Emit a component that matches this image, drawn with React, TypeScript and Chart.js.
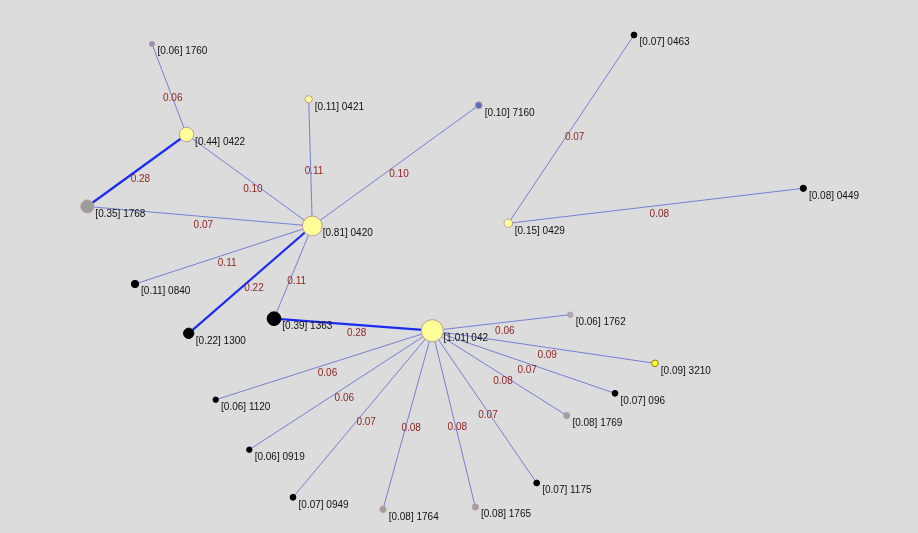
import { useEffect, useRef } from "react";
import { Chart, registerables } from "chart.js";

Chart.register(...registerables);

// ---- Data ----
const nodeIds = ["1760", "0422", "1768", "0420", "0421", "7160", "0840", "1300", "1363", "042", "0463", "0449", "0429", "1762", "3210", "096", "1769", "1175", "1765", "1764", "0949", "0919", "1120"];
const nodeWeights = [0.06, 0.44, 0.35, 0.81, 0.11, 0.10, 0.11, 0.22, 0.39, 1.01, 0.07, 0.08, 0.15, 0.06, 0.09, 0.07, 0.08, 0.07, 0.08, 0.08, 0.07, 0.06, 0.06];
const nodeX = [152, 186.5, 87.3, 312.3, 308.7, 478.7, 135, 188.7, 274, 432.3, 634, 803.3, 508.3, 570.3, 655, 615, 566.7, 536.7, 475.3, 383, 293, 249.3, 215.7];
const nodeY = [44, 134.5, 206.5, 226, 99.3, 105.3, 284, 333.3, 318.7, 330.7, 35, 188.3, 223.3, 314.7, 363.3, 393.3, 415.5, 483, 507, 509.3, 497.3, 449.7, 399.7];
const nodeFill = ["#8f95c8", "#ffff99", "#9c9c9c", "#ffff99", "#ffff99", "#5b6cc4", "#000000", "#000000", "#000000", "#ffff99", "#000000", "#000000", "#ffff99", "#a8a8c8", "#ffff33", "#000000", "#a0a0a8", "#000000", "#a0a0a0", "#a0a0a0", "#000000", "#000000", "#000000"];

const edgeFrom = ["0422", "0422", "0422", "0420", "0420", "0420", "0420", "0420", "0420", "042", "042", "042", "042", "042", "042", "042", "042", "042", "042", "042", "0429", "0429"];
const edgeTo = ["1760", "1768", "0420", "0421", "7160", "1768", "0840", "1300", "1363", "1363", "1762", "3210", "096", "1769", "1175", "1765", "1764", "0949", "0919", "1120", "0463", "0449"];
const edgeWeights = [0.06, 0.28, 0.10, 0.11, 0.10, 0.07, 0.11, 0.22, 0.11, 0.28, 0.06, 0.09, 0.07, 0.08, 0.07, 0.08, 0.08, 0.07, 0.06, 0.06, 0.07, 0.08];

const FONT = '10px "Liberation Sans", Arial, Helvetica, sans-serif';

function nodeRadius(w: number) {
  return Math.max(2.5, 11 * Math.sqrt(w));
}

export default function App() {
  const ref = useRef<HTMLCanvasElement | null>(null);

  useEffect(() => {
    document.body.style.margin = "0";
    const canvas = ref.current;
    if (!canvas) return;

    const idx = (id: string) => nodeIds.indexOf(id);

    const edgeDatasets = edgeFrom.map((f, i) => {
      const a = idx(f);
      const b = idx(edgeTo[i]);
      const thick = edgeWeights[i] >= 0.2;
      return {
        label: `edge-${i}`,
        data: [
          { x: nodeX[a], y: nodeY[a] },
          { x: nodeX[b], y: nodeY[b] },
        ],
        showLine: true,
        borderColor: thick ? "#1a2cf0" : "#7480d6",
        borderWidth: thick ? 2.2 : 1,
        pointRadius: 0,
        pointHoverRadius: 0,
        clip: false as any,
        order: 2,
      };
    });

    const nodeDataset = {
      label: "nodes",
      data: nodeIds.map((_, i) => ({ x: nodeX[i], y: nodeY[i] })),
      showLine: false,
      pointRadius: nodeWeights.map(nodeRadius),
      pointHoverRadius: nodeWeights.map(nodeRadius),
      pointBackgroundColor: nodeFill,
      pointBorderColor: nodeFill.map((c) =>
        c === "#000000" ? "#000000" : c === "#ffff33" ? "#9a7a10" : "#c09a9a"
      ),
      pointBorderWidth: 1,
      clip: false as any,
      order: 0,
    };

    const bgPlugin = {
      id: "bg",
      beforeDraw(chart: any) {
        const c = chart.ctx;
        c.save();
        c.fillStyle = "#dcdcdc";
        c.fillRect(0, 0, chart.width, chart.height);
        c.restore();
      },
    };

    const labelPlugin = {
      id: "labels",
      afterDatasetsDraw(chart: any) {
        const c = chart.ctx;
        const xs = chart.scales.x;
        const ys = chart.scales.y;
        c.save();
        c.font = FONT;
        // edge weights
        c.fillStyle = "#8e1f1f";
        c.textAlign = "center";
        c.textBaseline = "middle";
        edgeFrom.forEach((f, i) => {
          const a = idx(f);
          const b = idx(edgeTo[i]);
          const mx = (xs.getPixelForValue(nodeX[a]) + xs.getPixelForValue(nodeX[b])) / 2;
          const my = (ys.getPixelForValue(nodeY[a]) + ys.getPixelForValue(nodeY[b])) / 2;
          c.fillText(edgeWeights[i].toFixed(2), mx + 3.5, my + 8.5);
        });
        // node labels
        c.fillStyle = "#111111";
        c.textAlign = "left";
        nodeIds.forEach((id, i) => {
          const px = xs.getPixelForValue(nodeX[i]);
          const py = ys.getPixelForValue(nodeY[i]);
          const r = nodeRadius(nodeWeights[i]);
          c.fillText(`[${nodeWeights[i].toFixed(2)}] ${id}`, px + 0.7 * r + 3.5, py + 7.5);
        });
        c.restore();
      },
    };

    const chart = new Chart(canvas, {
      type: "scatter",
      data: { datasets: [nodeDataset as any, ...(edgeDatasets as any[])] },
      options: {
        animation: false,
        responsive: false,
        maintainAspectRatio: false,
        layout: { padding: 0, autoPadding: false },
        events: [],
        scales: {
          x: { type: "linear", min: 0, max: 918, display: false },
          y: { type: "linear", min: 0, max: 533, reverse: true, display: false },
        },
        plugins: {
          legend: { display: false },
          tooltip: { enabled: false },
        },
      },
      plugins: [bgPlugin, labelPlugin],
    });

    return () => chart.destroy();
  }, []);

  return (
    <div style={{ width: 918, height: 533 }}>
      <canvas ref={ref} width={918} height={533} style={{ display: "block" }} />
    </div>
  );
}
